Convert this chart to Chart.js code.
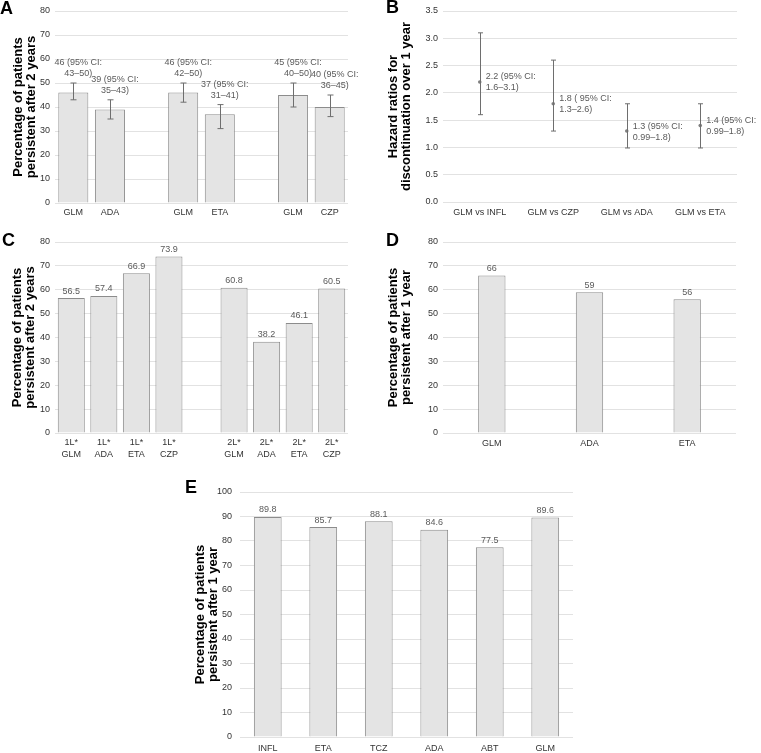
<!DOCTYPE html>
<html>
<head>
<meta charset="utf-8">
<script src="https://cdn.jsdelivr.net/npm/chart.js@4.4.1/dist/chart.umd.min.js"></script>
<style>
  body { margin: 0; background: #fff; }
  #fig { position: relative; width: 761px; height: 753px; overflow: hidden; font-family: 'Liberation Sans', Arial, sans-serif; }
  #fig canvas { position: absolute; }
  .tag { position: absolute; font-weight: bold; font-size: 18px; line-height: 18px; color: #000; }
</style>
</head>
<body>
<div id="fig">
  <canvas id="chartA" width="360" height="218" style="left:0;top:0"></canvas>
  <canvas id="chartB" width="381" height="218" style="left:380px;top:0"></canvas>
  <canvas id="chartC" width="360" height="245" style="left:0;top:215px"></canvas>
  <canvas id="chartD" width="381" height="245" style="left:380px;top:215px"></canvas>
  <canvas id="chartE" width="420" height="303" style="left:180px;top:450px"></canvas>
  <div class="tag" style="left:0;top:-1px">A</div>
  <div class="tag" style="left:386px;top:-2px">B</div>
  <div class="tag" style="left:2px;top:231px">C</div>
  <div class="tag" style="left:386px;top:231px">D</div>
  <div class="tag" style="left:185px;top:478px">E</div>
</div>
<script>
'use strict';

// Panel A - persistence after 2 years, pairwise comparisons
const catA = ['GLM', 'ADA', '', 'GLM', 'ETA', '', 'GLM', 'CZP'];
const valA = [46, 39, null, 46, 37, null, 45, 40];
const lowA = [43, 35, null, 42, 31, null, 40, 36];
const highA = [50, 43, null, 50, 41, null, 50, 45];

// Panel B - hazard ratios for discontinuation
const catB = ['GLM vs INFL', 'GLM vs CZP', 'GLM vs ADA', 'GLM vs ETA'];
const hrB = [2.2, 1.8, 1.3, 1.4];
const lowB = [1.6, 1.3, 0.99, 0.99];
const highB = [3.1, 2.6, 1.8, 1.8];
const textB = [
    ['2.2 (95% CI:', '1.6–3.1)'],
    ['1.8 ( 95% CI:', '1.3–2.6)'],
    ['1.3 (95% CI:', '0.99–1.8)'],
    ['1.4 (95% CI:', '0.99–1.8)']
];

// Panel C - first and second line
const catC = [['1L*', 'GLM'], ['1L*', 'ADA'], ['1L*', 'ETA'], ['1L*', 'CZP'], '',
    ['2L*', 'GLM'], ['2L*', 'ADA'], ['2L*', 'ETA'], ['2L*', 'CZP']];
const valC = [56.5, 57.4, 66.9, 73.9, null, 60.8, 38.2, 46.1, 60.5];

// Panel D
const catD = ['GLM', 'ADA', 'ETA'];
const valD = [66, 59, 56];

// Panel E
const catE = ['INFL', 'ETA', 'TCZ', 'ADA', 'ABT', 'GLM'];
const valE = [89.8, 85.7, 88.1, 84.6, 77.5, 89.6];

const FONT = "'Liberation Sans', Arial, sans-serif";
Chart.defaults.font.family = FONT;
Chart.defaults.font.size = 9;

// Draws vertical error bars with caps
const errorBarPlugin = {
    id: 'errorBars',
    afterDatasetsDraw(chart, args, opts) {
        if (!opts.low) return;
        const { ctx } = chart;
        const y = chart.scales.y;
        const meta = chart.getDatasetMeta(0);
        ctx.save();
        ctx.strokeStyle = '#6e6e6e';
        ctx.lineWidth = 1;
        meta.data.forEach((el, i) => {
            if (opts.low[i] == null) return;
            const x = Math.round(el.x) + 0.5;
            const yl = y.getPixelForValue(opts.low[i]);
            const yh = y.getPixelForValue(opts.high[i]);
            const c = opts.cap || 3;
            ctx.beginPath();
            ctx.moveTo(x, yl); ctx.lineTo(x, yh);
            ctx.moveTo(x - c, yl); ctx.lineTo(x + c, yl);
            ctx.moveTo(x - c, yh); ctx.lineTo(x + c, yh);
            ctx.stroke();
        });
        ctx.restore();
    }
};

// Draws value labels (above bars or right of points)
const labelPlugin = {
    id: 'valueLabels',
    afterDatasetsDraw(chart, args, opts) {
        if (!opts.text) return;
        const { ctx } = chart;
        const y = chart.scales.y;
        const meta = chart.getDatasetMeta(0);
        const lh = 11;
        ctx.save();
        ctx.font = '9px ' + FONT;
        ctx.fillStyle = '#5a5a5a';
        ctx.textBaseline = 'middle';
        meta.data.forEach((el, i) => {
            let lines = opts.text[i];
            if (lines == null) return;
            if (!Array.isArray(lines)) lines = [lines];
            if (opts.mode === 'right') {
                ctx.textAlign = 'left';
                lines.forEach((t, k) => ctx.fillText(t, el.x + 6, el.y - 5 + k * lh));
            } else {
                ctx.textAlign = 'center';
                const top = opts.anchor ? y.getPixelForValue(opts.anchor[i]) : el.y;
                const n = lines.length;
                lines.forEach((t, k) => ctx.fillText(t, el.x + (opts.dx || 0), top - opts.gap - (n - 1 - k) * lh));
            }
        });
        ctx.restore();
    }
};

function barSet(values, pct) {
    return {
        data: values,
        backgroundColor: '#e4e4e4',
        borderColor: '#8c8c8c',
        borderWidth: 1,
        barPercentage: pct,
        categoryPercentage: 1
    };
}

function buildChart(id, cfg) {
    return new Chart(document.getElementById(id), {
        type: cfg.type || 'bar',
        data: { labels: cfg.labels, datasets: [cfg.dataset] },
        options: {
            responsive: false,
            animation: false,
            layout: { padding: cfg.padding },
            plugins: {
                legend: { display: false },
                tooltip: { enabled: false },
                errorBars: cfg.errorBars || {},
                valueLabels: cfg.valueLabels || {}
            },
            scales: {
                x: {
                    offset: true,
                    grid: { display: false, drawTicks: false },
                    border: { display: false },
                    ticks: { color: '#333', padding: cfg.xPad, maxRotation: 0, autoSkip: false, font: { size: 9, lineHeight: 1.33 } },
                    afterFit: s => { s.height = cfg.xHeight; }
                },
                y: {
                    min: 0,
                    max: cfg.yMax,
                    grid: { color: '#e2e2e2', drawTicks: false },
                    border: { display: false },
                    ticks: { stepSize: cfg.yStep, padding: cfg.yPad || 5, color: '#333', callback: cfg.yFmt },
                    title: {
                        display: true,
                        text: cfg.yTitle,
                        color: '#000',
                        font: { size: 13, weight: 'bold', lineHeight: 1 },
                        padding: { top: cfg.titlePad, bottom: 0 }
                    },
                    afterFit: s => { s.width = cfg.yWidth; }
                }
            }
        },
        plugins: [errorBarPlugin, labelPlugin]
    });
}

const title2y = ['Percentage of patients', 'persistent after 2 years'];
const title1y = ['Percentage of patients', 'persistent after 1 year'];

buildChart('chartA', {
    labels: catA,
    dataset: barSet(valA, 0.82),
    padding: { top: 11, right: 12, left: 0, bottom: 0 },
    xHeight: 15, xPad: 4, yWidth: 55, yMax: 80, yStep: 10,
    yTitle: title2y, titlePad: 12,
    errorBars: { low: lowA, high: highA, cap: 3 },
    valueLabels: {
        text: valA.map((v, i) => v == null ? null : [v + ' (95% CI:', lowA[i] + '–' + highA[i] + ')']),
        anchor: highA, gap: 9, dx: 5
    }
});

buildChart('chartB', {
    type: 'line',
    labels: catB,
    dataset: {
        data: hrB, showLine: false, pointRadius: 1.8,
        pointBackgroundColor: '#808080', pointBorderWidth: 0
    },
    padding: { top: 11, right: 24, left: 0, bottom: 0 },
    xHeight: 16, xPad: 5, yWidth: 63, yMax: 3.5, yStep: 0.5,
    yFmt: v => v.toFixed(1),
    yTitle: ['Hazard ratios for', 'discontinuation over 1 year'], titlePad: 7,
    errorBars: { low: lowB, high: highB, cap: 2.5 },
    valueLabels: { text: textB, mode: 'right' }
});

buildChart('chartC', {
    labels: catC,
    dataset: barSet(valC, 0.83),
    padding: { top: 27, right: 12, left: 0, bottom: 0 },
    xHeight: 27, xPad: 4, yWidth: 55, yMax: 80, yStep: 10,
    yTitle: title2y, titlePad: 11,
    valueLabels: { text: valC.map(v => v == null ? null : v.toFixed(1)), gap: 7 }
});

buildChart('chartD', {
    labels: catD,
    dataset: barSet(valD, 0.28),
    padding: { top: 27, right: 25, left: 0, bottom: 0 },
    xHeight: 27, xPad: 5, yWidth: 63, yMax: 80, yStep: 10,
    yTitle: title1y, titlePad: 7,
    valueLabels: { text: valD.map(v => String(v)), gap: 7 }
});

buildChart('chartE', {
    labels: catE,
    dataset: barSet(valE, 0.5),
    padding: { top: 42, right: 27, left: 0, bottom: 0 },
    xHeight: 16, xPad: 6, yWidth: 60, yMax: 100, yStep: 10, yPad: 8,
    yTitle: title1y, titlePad: 14,
    valueLabels: { text: valE.map(v => v.toFixed(1)), gap: 7 }
});
</script>
</body>
</html>
